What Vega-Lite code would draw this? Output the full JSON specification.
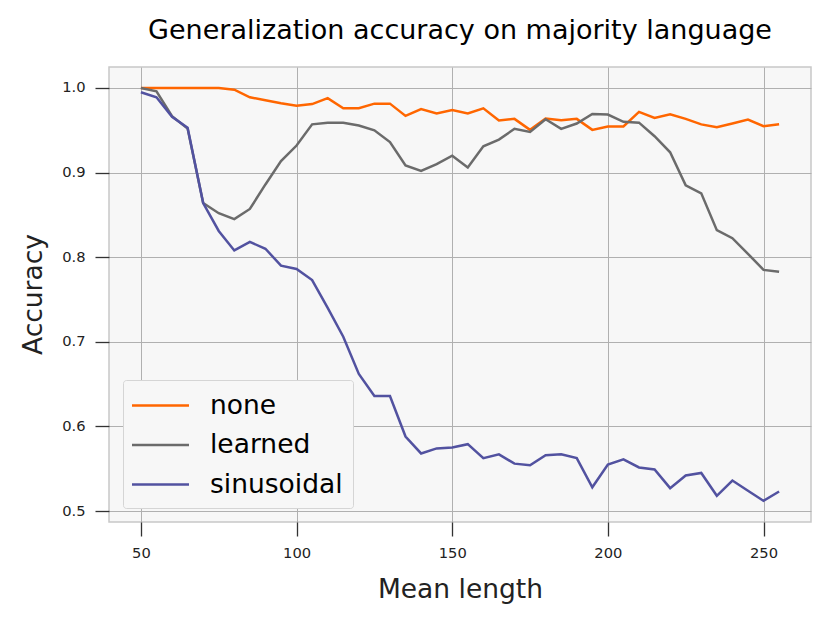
{
  "$schema": "https://vega.github.io/schema/vega-lite/v6.json",
  "width": 702,
  "height": 455,
  "autosize": {"type": "none"},
  "padding": {"left": 109, "top": 67, "right": 19, "bottom": 101},
  "background": "white",
  "config": {
    "font": "DejaVu Sans",
    "view": {"fill": "#f7f7f7", "stroke": "#c8c8c8", "strokeWidth": 1.5}
  },
  "title": {
    "text": "Generalization accuracy on majority language",
    "fontSize": 27,
    "fontWeight": "normal",
    "color": "black",
    "anchor": "middle",
    "baseline": "alphabetic",
    "offset": 26,
    "dy": 25
  },
  "data": {
    "values": [
      {"len": 50, "pe": "none", "acc": 1.0},
      {"len": 55, "pe": "none", "acc": 1.0},
      {"len": 60, "pe": "none", "acc": 1.0},
      {"len": 65, "pe": "none", "acc": 1.0},
      {"len": 70, "pe": "none", "acc": 1.0},
      {"len": 75, "pe": "none", "acc": 1.0},
      {"len": 80, "pe": "none", "acc": 0.998},
      {"len": 85, "pe": "none", "acc": 0.989},
      {"len": 90, "pe": "none", "acc": 0.9855},
      {"len": 95, "pe": "none", "acc": 0.982},
      {"len": 100, "pe": "none", "acc": 0.979},
      {"len": 105, "pe": "none", "acc": 0.981},
      {"len": 110, "pe": "none", "acc": 0.988},
      {"len": 115, "pe": "none", "acc": 0.976},
      {"len": 120, "pe": "none", "acc": 0.976},
      {"len": 125, "pe": "none", "acc": 0.9815},
      {"len": 130, "pe": "none", "acc": 0.9815},
      {"len": 135, "pe": "none", "acc": 0.967},
      {"len": 140, "pe": "none", "acc": 0.975},
      {"len": 145, "pe": "none", "acc": 0.97},
      {"len": 150, "pe": "none", "acc": 0.974},
      {"len": 155, "pe": "none", "acc": 0.97},
      {"len": 160, "pe": "none", "acc": 0.976},
      {"len": 165, "pe": "none", "acc": 0.9615},
      {"len": 170, "pe": "none", "acc": 0.9635},
      {"len": 175, "pe": "none", "acc": 0.9505},
      {"len": 180, "pe": "none", "acc": 0.964},
      {"len": 185, "pe": "none", "acc": 0.962},
      {"len": 190, "pe": "none", "acc": 0.9635},
      {"len": 195, "pe": "none", "acc": 0.9505},
      {"len": 200, "pe": "none", "acc": 0.9545},
      {"len": 205, "pe": "none", "acc": 0.9545},
      {"len": 210, "pe": "none", "acc": 0.9717},
      {"len": 215, "pe": "none", "acc": 0.9646},
      {"len": 220, "pe": "none", "acc": 0.969},
      {"len": 225, "pe": "none", "acc": 0.9635},
      {"len": 230, "pe": "none", "acc": 0.957},
      {"len": 235, "pe": "none", "acc": 0.9537},
      {"len": 240, "pe": "none", "acc": 0.958},
      {"len": 245, "pe": "none", "acc": 0.9627},
      {"len": 250, "pe": "none", "acc": 0.9548},
      {"len": 255, "pe": "none", "acc": 0.957},
      {"len": 50, "pe": "learned", "acc": 1.0},
      {"len": 55, "pe": "learned", "acc": 0.996},
      {"len": 60, "pe": "learned", "acc": 0.9666},
      {"len": 65, "pe": "learned", "acc": 0.952},
      {"len": 70, "pe": "learned", "acc": 0.864},
      {"len": 75, "pe": "learned", "acc": 0.852},
      {"len": 80, "pe": "learned", "acc": 0.845},
      {"len": 85, "pe": "learned", "acc": 0.857},
      {"len": 90, "pe": "learned", "acc": 0.886},
      {"len": 95, "pe": "learned", "acc": 0.9135},
      {"len": 100, "pe": "learned", "acc": 0.932},
      {"len": 105, "pe": "learned", "acc": 0.957},
      {"len": 110, "pe": "learned", "acc": 0.959},
      {"len": 115, "pe": "learned", "acc": 0.959},
      {"len": 120, "pe": "learned", "acc": 0.9556},
      {"len": 125, "pe": "learned", "acc": 0.95},
      {"len": 130, "pe": "learned", "acc": 0.936},
      {"len": 135, "pe": "learned", "acc": 0.9085},
      {"len": 140, "pe": "learned", "acc": 0.902},
      {"len": 145, "pe": "learned", "acc": 0.91},
      {"len": 150, "pe": "learned", "acc": 0.92},
      {"len": 155, "pe": "learned", "acc": 0.906},
      {"len": 160, "pe": "learned", "acc": 0.931},
      {"len": 165, "pe": "learned", "acc": 0.939},
      {"len": 170, "pe": "learned", "acc": 0.9517},
      {"len": 175, "pe": "learned", "acc": 0.948},
      {"len": 180, "pe": "learned", "acc": 0.963},
      {"len": 185, "pe": "learned", "acc": 0.9517},
      {"len": 190, "pe": "learned", "acc": 0.958},
      {"len": 195, "pe": "learned", "acc": 0.9693},
      {"len": 200, "pe": "learned", "acc": 0.9686},
      {"len": 205, "pe": "learned", "acc": 0.96},
      {"len": 210, "pe": "learned", "acc": 0.959},
      {"len": 215, "pe": "learned", "acc": 0.943},
      {"len": 220, "pe": "learned", "acc": 0.924},
      {"len": 225, "pe": "learned", "acc": 0.885},
      {"len": 230, "pe": "learned", "acc": 0.8755},
      {"len": 235, "pe": "learned", "acc": 0.832},
      {"len": 240, "pe": "learned", "acc": 0.8224},
      {"len": 245, "pe": "learned", "acc": 0.804},
      {"len": 250, "pe": "learned", "acc": 0.785},
      {"len": 255, "pe": "learned", "acc": 0.7827},
      {"len": 50, "pe": "sinusoidal", "acc": 0.995},
      {"len": 55, "pe": "sinusoidal", "acc": 0.989},
      {"len": 60, "pe": "sinusoidal", "acc": 0.966},
      {"len": 65, "pe": "sinusoidal", "acc": 0.953},
      {"len": 70, "pe": "sinusoidal", "acc": 0.864},
      {"len": 75, "pe": "sinusoidal", "acc": 0.831},
      {"len": 80, "pe": "sinusoidal", "acc": 0.808},
      {"len": 85, "pe": "sinusoidal", "acc": 0.818},
      {"len": 90, "pe": "sinusoidal", "acc": 0.81},
      {"len": 95, "pe": "sinusoidal", "acc": 0.79},
      {"len": 100, "pe": "sinusoidal", "acc": 0.786},
      {"len": 105, "pe": "sinusoidal", "acc": 0.773},
      {"len": 110, "pe": "sinusoidal", "acc": 0.74},
      {"len": 115, "pe": "sinusoidal", "acc": 0.706},
      {"len": 120, "pe": "sinusoidal", "acc": 0.662},
      {"len": 125, "pe": "sinusoidal", "acc": 0.636},
      {"len": 130, "pe": "sinusoidal", "acc": 0.636},
      {"len": 135, "pe": "sinusoidal", "acc": 0.588},
      {"len": 140, "pe": "sinusoidal", "acc": 0.568},
      {"len": 145, "pe": "sinusoidal", "acc": 0.574},
      {"len": 150, "pe": "sinusoidal", "acc": 0.575},
      {"len": 155, "pe": "sinusoidal", "acc": 0.579},
      {"len": 160, "pe": "sinusoidal", "acc": 0.5625},
      {"len": 165, "pe": "sinusoidal", "acc": 0.567},
      {"len": 170, "pe": "sinusoidal", "acc": 0.556},
      {"len": 175, "pe": "sinusoidal", "acc": 0.554},
      {"len": 180, "pe": "sinusoidal", "acc": 0.566},
      {"len": 185, "pe": "sinusoidal", "acc": 0.567},
      {"len": 190, "pe": "sinusoidal", "acc": 0.5625},
      {"len": 195, "pe": "sinusoidal", "acc": 0.528},
      {"len": 200, "pe": "sinusoidal", "acc": 0.555},
      {"len": 205, "pe": "sinusoidal", "acc": 0.561},
      {"len": 210, "pe": "sinusoidal", "acc": 0.5515},
      {"len": 215, "pe": "sinusoidal", "acc": 0.549},
      {"len": 220, "pe": "sinusoidal", "acc": 0.527},
      {"len": 225, "pe": "sinusoidal", "acc": 0.542},
      {"len": 230, "pe": "sinusoidal", "acc": 0.545},
      {"len": 235, "pe": "sinusoidal", "acc": 0.518},
      {"len": 240, "pe": "sinusoidal", "acc": 0.536},
      {"len": 245, "pe": "sinusoidal", "acc": 0.524},
      {"len": 250, "pe": "sinusoidal", "acc": 0.512},
      {"len": 255, "pe": "sinusoidal", "acc": 0.523}
    ]
  },
  "mark": {"type": "line", "strokeWidth": 2.5},
  "encoding": {
    "x": {
      "field": "len", "type": "quantitative", "title": "Mean length",
      "scale": {"domain": [39.75, 265.25], "nice": false, "zero": false},
      "axis": {
        "values": [50, 100, 150, 200, 250], "domain": false,
        "gridColor": "#b0b0b0", "gridWidth": 1,
        "tickSize": 14, "tickWidth": 1.3, "tickColor": "#333333",
        "labelFontSize": 14.7, "labelColor": "#222222", "labelPadding": 9,
        "titleFontSize": 26.5, "titleFontWeight": "normal", "titleColor": "#222222",
        "titleBaseline": "alphabetic", "titleY": 75
      }
    },
    "y": {
      "field": "acc", "type": "quantitative", "title": "Accuracy",
      "scale": {"domain": [0.487, 1.0248], "nice": false, "zero": false},
      "axis": {
        "values": [0.5, 0.6, 0.7, 0.8, 0.9, 1.0], "format": ".1f", "domain": false,
        "gridColor": "#b0b0b0", "gridWidth": 1,
        "tickSize": 14, "tickWidth": 1.3, "tickColor": "#333333",
        "labelFontSize": 14.7, "labelColor": "#222222", "labelPadding": 10,
        "titleFontSize": 26.5, "titleFontWeight": "normal", "titleColor": "#222222",
        "titleBaseline": "alphabetic", "titleAngle": -90, "titleX": -68, "titleY": 227, "titleAlign": "center"
      }
    },
    "color": {
      "field": "pe", "type": "nominal",
      "scale": {"domain": ["none", "learned", "sinusoidal"], "range": ["#ff6600", "#6b6b6b", "#5252a0"]},
      "legend": {
        "title": null, "orient": "none", "legendX": 14, "legendY": 313,
        "padding": 10, "fillColor": "#f7f7f7", "strokeColor": "#d5d5d5", "cornerRadius": 3,
        "symbolType": "M-2,0H2", "symbolSize": 812, "symbolStrokeWidth": 2.5, "symbolOffset": 12,
        "labelFontSize": 26.5, "labelColor": "black", "labelOffset": 34, "rowPadding": 10.5
      }
    }
  }
}
